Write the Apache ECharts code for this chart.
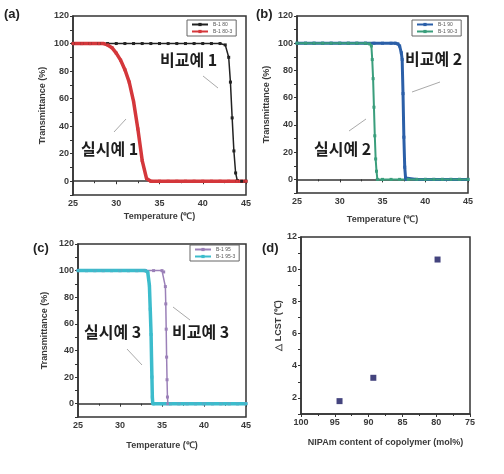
<!DOCTYPE html>
<html><head><meta charset="utf-8">
<script src="https://cdn.jsdelivr.net/npm/echarts@6/dist/echarts.min.js"></script>
<style>html,body{margin:0;padding:0;background:#fff}#c{width:504px;height:474px}</style>
</head><body><div id="c"></div>
<script>
// ---- Data ----
const aRefTemp  = [25,26,27,28,29,30,31,32,33,34,35,36,37,38,39,40,41,42,42.6,43.0,43.2,43.4,43.6,43.8,44.0,44.5,45];
const aRefTrans = [100,100,100,100,100,100,100,100,100,100,100,100,100,100,100,100,100,100,99,90,72,46,22,6,0.5,0,0];
const aExTemp   = [25,26,27,28,28.5,29,29.5,30,30.5,31,31.5,32,32.5,33,33.5,34,35,36,37,38,39,40,41,42,43,44,45];
const aExTrans  = [100,100,100,100,100,99,97,93,88,81,72,58,38,15,2,0,0,0,0,0,0,0,0,0,0,0,0];

const bRefTemp  = [25,26,27,28,29,30,31,32,33,34,35,36,36.5,36.8,37.0,37.2,37.3,37.4,37.5,37.6,37.7,37.8,39,40,41,42,43,44,45];
const bRefTrans = [100,100,100,100,100,100,100,100,100,100,100,100,100,99.5,98,93,88,63,31,9,1,0,0,0,0,0,0,0,0];
const bExTemp   = [25,26,27,28,29,30,31,32,33,33.5,33.7,33.8,33.9,34.0,34.1,34.2,34.3,34.4,35,36,37,38,39,40,41,42,43,44,45];
const bExTrans  = [100,100,100,100,100,100,100,100,100,99.5,98,88,74,53,32,15,6,0,0,0,0,0,0,0,0,0,0,0,0];

const cRefTemp  = [25,26,27,28,29,30,31,32,33,34,35,35.2,35.4,35.45,35.5,35.55,35.6,35.65,35.7,36,37,38,39,40,41,42,43,44,45];
const cRefTrans = [100,100,100,100,100,100,100,100,100,100,100,99,88,75,56,35,18,5,0,0,0,0,0,0,0,0,0,0,0];
const cExTemp   = [25,26,27,28,29,30,31,32,33,33.3,33.5,33.6,33.7,33.75,33.8,33.85,33.9,34,35,36,37,38,39,40,41,42,43,44,45];
const cExTrans  = [100,100,100,100,100,100,100,100,100,99,89,71,52,35,20,5,0,0,0,0,0,0,0,0,0,0,0,0,0];

const dNipam = [94.3, 89.3, 79.8];
const dLcst  = [1.8, 3.25, 10.6];

const namesA = ['B-1 80','B-1 80-3'];
const namesB = ['B-1 90','B-1 90-3'];
const namesC = ['B-1 95','B-1 95-3'];

const tempTicks = {min:25, max:45, interval:5};
const transTicks = {min:-10, max:120, interval:10};

// ---- Helpers ----
const pairs = (xs, ys) => xs.map((x,i)=>[x, ys[i]]);
const FONT = 'Liberation Sans';
const axisCommon = {
  axisLine:{show:true, lineStyle:{color:'#333', width:1.5}},
  axisTick:{show:true, inside:false, length:3, lineStyle:{color:'#333'}},
  splitLine:{show:false},
  axisLabel:{fontSize:9, color:'#3a3a3a', fontFamily:FONT, fontWeight:'bold', margin:4},
  nameTextStyle:{fontSize:9, color:'#3a3a3a', fontFamily:FONT, fontWeight:'bold'}
};
function tempAxis(gi, gap){
  return Object.assign({}, axisCommon, {type:'value', gridIndex:gi, min:tempTicks.min, max:tempTicks.max, interval:tempTicks.interval,
    name:'Temperature (\u2103)', nameLocation:'middle', nameGap:gap,
    minorTick:{show:true, splitNumber:2, length:2, lineStyle:{color:'#333'}}});
}
function transAxis(gi, gap){
  return Object.assign({}, axisCommon, {type:'value', gridIndex:gi, min:transTicks.min, max:transTicks.max, interval:transTicks.interval,
    name:'Transmittance (%)', nameLocation:'middle', nameGap:gap,
    axisLabel:Object.assign({}, axisCommon.axisLabel, {formatter:v => (v>=0 && v%20===0) ? String(v) : ''})});
}
function lineSeries(name, xi, xs, ys, color, width, ss){
  return {type:'line', name, xAxisIndex:xi, yAxisIndex:xi, data:pairs(xs,ys),
    showSymbol:true, symbol:'rect', symbolSize:ss, smooth:false,
    itemStyle:{color}, lineStyle:{color, width}, animation:false, z: 3};
}
function legendFor(names, left, top){
  return {data:names, left, top, orient:'vertical', itemWidth:16, itemHeight:4, itemGap:2,
    textStyle:{fontSize:5, color:'#555', fontFamily:FONT}, borderColor:'#666', borderWidth:1, padding:[2,4], backgroundColor:'#fff'};
}
const gridStyle = {show:true, borderColor:'#333', borderWidth:1.5, containLabel:false};

const chart = echarts.init(document.getElementById('c'), null, {renderer:'canvas'});

function korText(x, y, text){
  return {type:'text', left:x, top:y, style:{text, fontSize:16, fontWeight:'bold', fill:'#1e1e1e', fontFamily:'Noto Sans CJK KR'}, z:10};
}
function panelLabel(x, y, text){
  return {type:'text', left:x, top:y, style:{text, fontSize:13, fontWeight:'bold', fill:'#222', fontFamily:FONT}, z:10};
}
function leader(x1,y1,x2,y2){
  return {type:'line', shape:{x1,y1,x2,y2}, style:{stroke:'#aaa', lineWidth:1}, z:10};
}

chart.setOption({
  backgroundColor:'#fff',
  animation:false,
  textStyle:{fontFamily:FONT},
  grid:[
    Object.assign({left:73, top:16, width:173, height:179}, gridStyle),
    Object.assign({left:297, top:16, width:171, height:177}, gridStyle),
    Object.assign({left:78, top:244, width:168, height:173}, gridStyle),
    Object.assign({left:301, top:237, width:169, height:177}, gridStyle)
  ],
  xAxis:[
    tempAxis(0, 17), tempAxis(1, 22), tempAxis(2, 24),
    Object.assign({}, axisCommon, {type:'value', gridIndex:3, min:75, max:100, interval:5, inverse:true,
      name:'NIPAm content of copolymer (mol%)', nameLocation:'middle', nameGap:24,
      minorTick:{show:true, splitNumber:2, length:2, lineStyle:{color:'#333'}}})
  ],
  yAxis:[
    transAxis(0, 26), transAxis(1, 26), transAxis(2, 29),
    Object.assign({}, axisCommon, {type:'value', gridIndex:3, min:1, max:12, interval:1,
      name:'\u25B3 LCST (\u2103)', nameLocation:'middle', nameGap:18,
      axisLabel:Object.assign({}, axisCommon.axisLabel, {formatter:v => (v%2===0) ? String(v) : ''})})
  ],
  legend:[
    legendFor(namesA, 187, 20),
    legendFor(namesB, 412, 20),
    legendFor(namesC, 190, 245)
  ],
  series:[
    lineSeries(namesA[0], 0, aRefTemp, aRefTrans, '#222222', 1.5, 3),
    lineSeries(namesA[1], 0, aExTemp, aExTrans, '#d4373b', 3.5, 3),
    lineSeries(namesB[0], 1, bRefTemp, bRefTrans, '#2b5fa8', 3, 3),
    lineSeries(namesB[1], 1, bExTemp, bExTrans, '#3a9e7c', 2, 3),
    lineSeries(namesC[0], 2, cRefTemp, cRefTrans, '#9b80b8', 1.5, 3),
    lineSeries(namesC[1], 2, cExTemp, cExTrans, '#3cbccc', 3.5, 3),
    {type:'scatter', name:'LCST', xAxisIndex:3, yAxisIndex:3, data:pairs(dNipam, dLcst),
      symbol:'rect', symbolSize:6, itemStyle:{color:'#15155e'}, animation:false}
  ],
  graphic:[
    panelLabel(4, 8, '(a)'),
    panelLabel(256, 8, '(b)'),
    panelLabel(33, 242, '(c)'),
    panelLabel(262, 242, '(d)'),
    korText(160, 52, '비교예 1'),
    korText(81, 141, '실시예 1'),
    korText(405, 51, '비교예 2'),
    korText(314, 141, '실시예 2'),
    korText(84, 324, '실시예 3'),
    korText(172, 324, '비교예 3'),
    leader(203,76,218,88),
    leader(114,132,126,119),
    leader(412,92,440,82),
    leader(349,131,366,119),
    leader(173,307,190,320),
    leader(127,349,142,365)
  ]
});
</script></body></html>
